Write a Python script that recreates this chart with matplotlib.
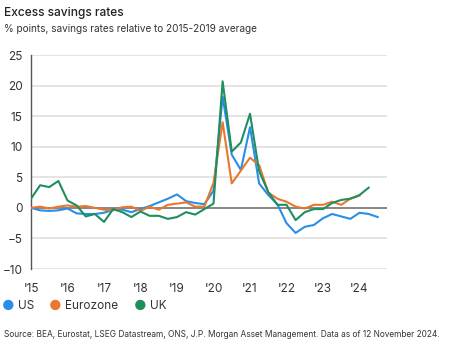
import numpy as np
import matplotlib.pyplot as plt

plt.rcParams['font.family'] = ['Inter', 'DejaVu Sans']

# quarterly excess savings, % points vs 2015-2019 average, starting 2015 Q1
us = [0, -0.4, -0.5, -0.4, -0.1, -0.9, -1.0, -1.0, -0.8, -0.3,
      -0.3, -0.7, -0.2, 0.3, 0.9, 1.5, 2.2, 1.1, 0.8, 0.6,
      2.8, 18.2, 8.7, 6.2, 13.2, 4.0, 2.1, 0.6, -2.5, -4.1,
      -3.1, -2.8, -1.7, -1.0, -1.4, -1.8, -0.8, -1.0, -1.5]
eurozone = [0, 0.2, -0.1, 0.2, 0.4, 0.2, 0.3, 0.0, -0.3, -0.4,
            0.1, 0.2, -0.5, 0.2, -0.3, 0.5, 0.7, 0.9, 0.2, 0.2,
            4.1, 14.0, 4.0, 6.1, 8.2, 7.0, 2.5, 1.5, 1.0, 0.2,
            -0.1, 0.5, 0.5, 1.0, 0.5, 1.5, 2.0]
uk = [1.5, 3.7, 3.4, 4.4, 1.2, 0.4, -1.4, -1.0, -2.3, -0.2,
      -0.7, -1.5, -0.6, -1.3, -1.3, -1.8, -1.5, -0.7, -1.1, -0.2,
      0.7, 20.7, 9.2, 10.7, 15.4, 6.0, 2.6, 0.5, 0.5, -2.0,
      -0.7, -0.2, -0.2, 0.8, 1.3, 1.5, 2.1, 3.3]
years = list(range(2015, 2025))
year_labels = ["'15", "'16", "'17", "'18", "'19", "'20", "'21", "'22", "'23", "'24"]

def quarters(vals):
    return 2015 + np.arange(len(vals)) / 4

blue = '#2b8ee6'
orange = '#e8772f'
green = '#1f8f5f'

fig = plt.figure(figsize=(4.58, 3.44), dpi=100)
ax = fig.add_axes([0.0677, 0.218, 0.777, 0.622])

for v in range(-10, 30, 5):
    if v != 0:
        ax.axhline(v, color='#dcdcdc', lw=1.1, zorder=0)
ax.axhline(0, color='#666666', lw=1.1, zorder=1)

ax.plot(quarters(us), us, color=blue, lw=1.5, zorder=3)
ax.plot(quarters(eurozone), eurozone, color=orange, lw=1.5, zorder=3)
ax.plot(quarters(uk), uk, color=green, lw=1.5, zorder=4)

ax.set_xlim(2015, 2024.75)
ax.set_ylim(-10, 25)
ax.set_yticks(range(-10, 30, 5))
ax.set_xticks(years)
ax.set_xticklabels(year_labels)
for s in ['top', 'right', 'bottom']:
    ax.spines[s].set_visible(False)
ax.spines['left'].set_color('#555555')
ax.spines['left'].set_linewidth(1.0)
ax.tick_params(axis='both', length=0, labelsize=8.5, colors='#333333')
ax.tick_params(axis='y', pad=6)
ax.tick_params(axis='x', pad=10)

fig.text(0.009, 0.963, 'Excess savings rates', fontsize=8.6, fontweight='medium',
         color='#222222', va='center')
fig.text(0.009, 0.915, '% points, savings rates relative to 2015-2019 average',
         fontsize=7.2, color='#333333', va='center')

# legend row
leg = [('US', blue, 0.018), ('Eurozone', orange, 0.121), ('UK', green, 0.306)]
for name, col, x in leg:
    fig.text(x, 0.110, '\u25cf', color=col, fontsize=10, va='center', ha='center')
    fig.text(x + 0.022, 0.110, name, color='#333333', fontsize=8.5, va='center')

fig.text(0.009, 0.027, 'Source: BEA, Eurostat, LSEG Datastream, ONS, J.P. Morgan Asset Management. '
         'Data as of 12 November 2024.', fontsize=6.0, color='#333333', va='center')

fig.savefig('out.png', dpi=100)
